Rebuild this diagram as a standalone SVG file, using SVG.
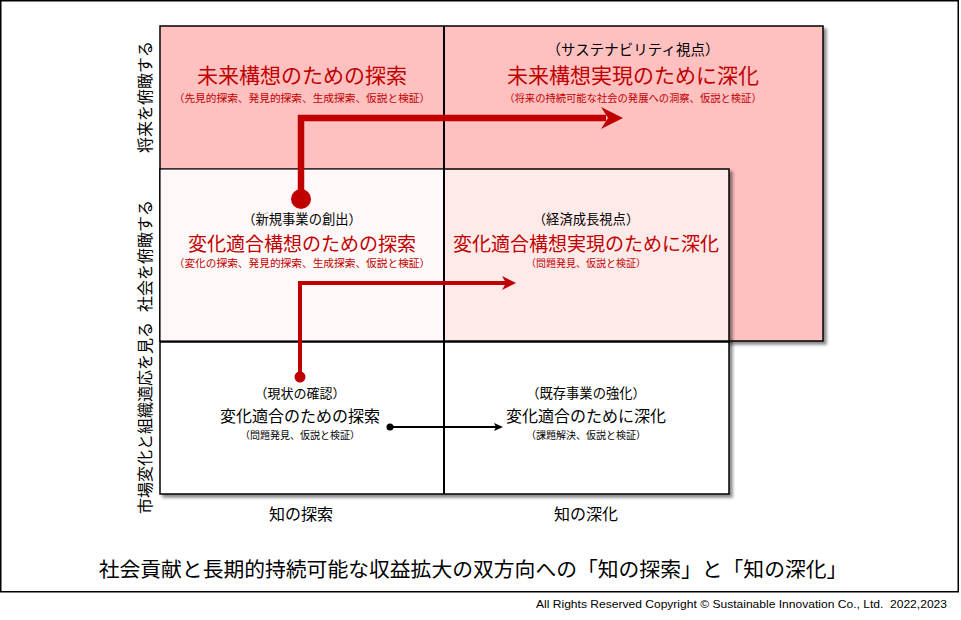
<svg xmlns="http://www.w3.org/2000/svg" width="961" height="620" viewBox="0 0 961 620">
<style>
text{font-family:"Noto Sans CJK JP","Noto Sans",sans-serif;text-anchor:middle}
.red{fill:#C00000}
.blk{fill:#000}
.box{stroke:#000;stroke-width:1.5}
.lat{font-family:"Liberation Sans",Arial,sans-serif;text-anchor:end}
</style>
<defs>
<filter id="sh" x="-5%" y="-5%" width="115%" height="115%">
<feDropShadow dx="3" dy="3" stdDeviation="1.5" flood-color="#000" flood-opacity="0.45"/>
</filter>
</defs>
<rect x="0.75" y="0.75" width="957.5" height="591" fill="#fff" stroke="#000" stroke-width="1.5"/>

<g id="quadrant-top">
<rect class="box" x="160" y="26" width="663" height="315" fill="#FFC0C0" filter="url(#sh)"/>
</g>
<g id="quadrant-middle">
<rect class="box" x="160" y="169" width="569" height="172" fill="#FFEAEA" filter="url(#sh)"/>
<rect x="160.75" y="169.75" width="283.25" height="170.5" fill="#FFF8F8"/>
</g>
<g id="quadrant-bottom">
<rect class="box" x="160" y="342" width="569" height="152" fill="#fff" filter="url(#sh)"/>
</g>
<line x1="444" y1="26" x2="444" y2="494" stroke="#000" stroke-width="2"/>

<g id="node-future-explore">
<text class="red" x="302" y="83" font-size="21">未来構想のための探索</text>
<text class="red" x="302" y="102" font-size="10.7">（先見的探索、発見的探索、生成探索、仮説と検証）</text>
</g>
<g id="node-future-deepen">
<text class="blk" x="633" y="55" font-size="14.5">（サステナビリティ視点）</text>
<text class="red" x="633" y="83" font-size="21">未来構想実現のために深化</text>
<text class="red" x="633" y="102" font-size="10.3">（将来の持続可能な社会の発展への洞察、仮説と検証）</text>
</g>
<g id="node-change-explore">
<text class="blk" x="302" y="224" font-size="13.3">（新規事業の創出）</text>
<text class="red" x="302" y="251" font-size="19">変化適合構想のための探索</text>
<text class="red" x="302" y="267" font-size="10.7">（変化の探索、発見的探索、生成探索、仮説と検証）</text>
</g>
<g id="node-change-deepen">
<text class="blk" x="586" y="224" font-size="13.3">（経済成長視点）</text>
<text class="red" x="586" y="251" font-size="19">変化適合構想実現のために深化</text>
<text class="red" x="586" y="267" font-size="10">（問題発見、仮説と検証）</text>
</g>
<g id="node-adapt-explore">
<text class="blk" x="300" y="398" font-size="13">（現状の確認）</text>
<text class="blk" x="300" y="422" font-size="16">変化適合のための探索</text>
<text class="blk" x="300" y="439" font-size="10">（問題発見、仮説と検証）</text>
</g>
<g id="node-adapt-deepen">
<text class="blk" x="586" y="398" font-size="13.3">（既存事業の強化）</text>
<text class="blk" x="586" y="422" font-size="16">変化適合のために深化</text>
<text class="blk" x="586" y="439" font-size="10">（課題解決、仮説と検証）</text>
</g>

<g id="axis-labels">
<text class="blk" x="301" y="520" font-size="16">知の探索</text>
<text class="blk" x="586" y="520" font-size="16">知の深化</text>
<text class="blk" font-size="16" transform="translate(151,97) rotate(-90)">将来を俯瞰する</text>
<text class="blk" font-size="16" transform="translate(151,256) rotate(-90)">社会を俯瞰する</text>
<text class="blk" font-size="16" transform="translate(151,418) rotate(-90)">市場変化と組織適応を見る</text>
</g>

<g id="connectors">
<path d="M301,200 V118 H606" fill="none" stroke="#C00000" stroke-width="6.5"/>
<circle cx="301" cy="199" r="10" fill="#C00000"/>
<polygon points="601,107 623,118 601,129 608,118" fill="#C00000"/>
<path d="M300,377 V283 H506" fill="none" stroke="#C00000" stroke-width="4"/>
<circle cx="300" cy="377" r="5.5" fill="#C00000"/>
<polygon points="502,276 516,283 502,290 506,283" fill="#C00000"/>
<line x1="390" y1="427" x2="497" y2="427" stroke="#000" stroke-width="2"/>
<circle cx="390" cy="427" r="3.5" fill="#000"/>
<polygon points="494,423 503,427 494,431 496,427" fill="#000"/>
</g>

<g id="caption">
<text class="blk" x="473" y="577" font-size="20.8">社会貢献と長期的持続可能な収益拡大の双方向への「知の探索」と「知の深化」</text>
<text class="lat" x="947" y="608" font-size="11.5" textLength="411" lengthAdjust="spacingAndGlyphs" fill="#000">All Rights Reserved Copyright © Sustainable Innovation Co., Ltd.&#160; 2022,2023</text>
</g>
</svg>
